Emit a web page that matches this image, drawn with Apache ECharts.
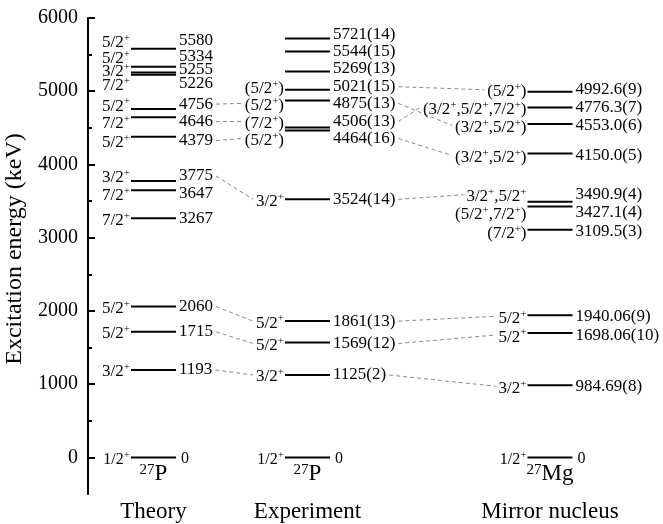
<!DOCTYPE html>
<html><head><meta charset="utf-8">
<script src="https://cdn.jsdelivr.net/npm/echarts@6/dist/echarts.min.js"></script>
<style>html,body{margin:0;padding:0;background:#fff}#c{width:663px;height:524px}</style>
</head><body><div id="c"></div>
<script>
// ---------------- data ----------------
const columnNames = ['Theory', 'Experiment', 'Mirror nucleus'];
const nucleusMass = ['27', '27', '27'];
const nucleusSymbol = ['P', 'P', 'Mg'];

const theoryEnergies = [0, 1193, 1715, 2060, 3267, 3647, 3775, 4379, 4646, 4756, 5226, 5255, 5334, 5580];
const theoryLabels = ['0', '1193', '1715', '2060', '3267', '3647', '3775', '4379', '4646', '4756', '5226', '5255', '5334', '5580'];
const theorySpins = ['1/2+', '3/2+', '5/2+', '5/2+', '7/2+', '7/2+', '3/2+', '5/2+', '7/2+', '5/2+', '7/2+', '3/2+', '5/2+', '5/2+'];

const expEnergies = [0, 1125, 1569, 1861, 3524, 4464, 4506, 4875, 5021, 5269, 5544, 5721];
const expLabels = ['0', '1125(2)', '1569(12)', '1861(13)', '3524(14)', '4464(16)', '4506(13)', '4875(13)', '5021(15)', '5269(13)', '5544(15)', '5721(14)'];
const expSpins = ['1/2+', '3/2+', '5/2+', '5/2+', '3/2+', '(5/2+)', '(7/2+)', '(5/2+)', '(5/2+)', '', '', ''];

const mirrorEnergies = [0, 984.69, 1698.06, 1940.06, 3109.5, 3427.1, 3490.9, 4150.0, 4553.0, 4776.3, 4992.6];
const mirrorLabels = ['0', '984.69(8)', '1698.06(10)', '1940.06(9)', '3109.5(3)', '3427.1(4)', '3490.9(4)', '4150.0(5)', '4553.0(6)', '4776.3(7)', '4992.6(9)'];
const mirrorSpins = ['1/2+', '3/2+', '5/2+', '5/2+', '(7/2+)', '(5/2+,7/2+)', '3/2+,5/2+', '(3/2+,5/2+)', '(3/2+,5/2+)', '(3/2+,5/2+,7/2+)', '(5/2+)'];

// correspondences (from energy -> to energy)
const theoryToExp = [[4756, 4875], [4646, 4506], [4379, 4464], [3775, 3524], [2060, 1861], [1715, 1569], [1193, 1125]];
const expToMirror = [[5021, 4992.6], [4875, 4553.0], [4506, 4776.3], [4464, 4150.0], [3524, 3490.9], [1861, 1940.06], [1569, 1698.06], [1125, 984.69]];

const yTickValues = [0, 1000, 2000, 3000, 4000, 5000, 6000];
const yTickLabels = ['0', '1000', '2000', '3000', '4000', '5000', '6000'];
const yMinorTickValues = [500, 1500, 2500, 3500, 4500, 5500];

// ---------------- layout / style ----------------
const FONT = "'Liberation Serif', 'Times New Roman', serif";
const colX = [65.5, 219.5, 462];   // column centres in x-axis units
const halfW = 22.5;
const LBL = 17, LBL0 = 16, SUP = 11;
const SPIN_DY = 2;                 // baseline correction of the rich spin labels
// vertical label shifts (px) to avoid overlaps
const labelShift = [
  {5580: -8, 5334: -10, 5255: -3, 5226: 9, 4756: -5, 4646: 4.5, 4379: 4, 3775: -5, 3647: 3},
  {5721: -4, 5269: -3, 5021: -3, 4875: 3, 4506: -6, 4464: 8, 1569: 1},
  {4992.6: -2, 4553: 1.5, 4150: 2, 3490.9: -7, 3427.1: 6, 3109.5: 2, 1940.06: 1, 1698.06: 2, 984.69: 1}
];

const columns = [
  {energies: theoryEnergies, labels: theoryLabels, spins: theorySpins},
  {energies: expEnergies, labels: expLabels, spins: expSpins},
  {energies: mirrorEnergies, labels: mirrorLabels, spins: mirrorSpins}
];

const ctx = document.createElement('canvas').getContext('2d');
function textW(str, size) { ctx.font = size + 'px ' + FONT; return ctx.measureText(str).width; }
function spinWidth(s, size) {
  let w = 0; const parts = s.split('+');
  parts.forEach((p, i) => { w += textW(p, size); if (i < parts.length - 1) w += textW('+', SUP); });
  return w;
}
function spinRich(s) {
  let out = ''; const parts = s.split('+');
  parts.forEach((p, i) => { if (p) out += '{n|' + p + '}'; if (i < parts.length - 1) out += '{s|+}'; });
  return out;
}
function richStyles(size) {
  return {
    n: {fontSize: size, fontFamily: FONT, lineHeight: 22, verticalAlign: 'middle', fill: '#000'},
    s: {fontSize: SUP, fontFamily: FONT, lineHeight: 11, verticalAlign: 'middle', padding: [0, 0, 9, 0], fill: '#000'}
  };
}
function shift(ci, e) { return labelShift[ci][e] || 0; }

const levelData = [];
columns.forEach((c, ci) => c.energies.forEach((e, i) => levelData.push([ci, e, i])));
const linkData = [];
theoryToExp.forEach(p => linkData.push([0, p[0], p[1]]));
expToMirror.forEach(p => linkData.push([1, p[0], p[1]]));

function renderLevel(params, api) {
  const ci = api.value(0), e = api.value(1), i = api.value(2);
  const col = columns[ci];
  const L = api.coord([colX[ci] - halfW, e]);
  const R = api.coord([colX[ci] + halfW, e]);
  const y = L[1];
  const ground = e === 0;
  const size = ground ? LBL0 : LBL;
  const dy = shift(ci, e);
  const children = [
    {type: 'line', shape: {x1: L[0], y1: y, x2: R[0], y2: y}, style: {stroke: '#000', lineWidth: 2}}
  ];
  if (col.spins[i]) {
    children.push({type: 'text', x: L[0] - 1, y: y + dy + SPIN_DY,
      style: {text: spinRich(col.spins[i]), rich: richStyles(size), align: 'right', verticalAlign: 'middle', fill: '#000'}});
  }
  children.push({type: 'text', x: R[0] + (ground ? 5 : 3), y: y + dy + (ground ? 1 : 0),
    style: {text: col.labels[i], fontSize: size, fontFamily: FONT, align: 'left', verticalAlign: 'middle', fill: '#000'}});
  if (ground) {
    const cx = (L[0] + R[0]) / 2;
    children.push({type: 'text', x: cx, y: y + 17,
      style: {text: '{m|' + nucleusMass[ci] + '}{b|' + nucleusSymbol[ci] + '}', align: 'center', verticalAlign: 'middle',
        rich: {m: {fontSize: 15, fontFamily: FONT, lineHeight: 15, verticalAlign: 'middle', padding: [0, 0, 8, 0], fill: '#000'},
               b: {fontSize: 23, fontFamily: FONT, lineHeight: 24, verticalAlign: 'middle', fill: '#000'}}}});
    children.push({type: 'text', x: cx, y: y + 55,
      style: {text: columnNames[ci], fontSize: 23, fontFamily: FONT, align: 'center', verticalAlign: 'middle', fill: '#000'}});
  }
  return {type: 'group', children: children};
}

function renderLink(params, api) {
  const ci = api.value(0), eFrom = api.value(1), eTo = api.value(2);
  const cFrom = columns[ci], cTo = columns[ci + 1];
  const iFrom = cFrom.energies.indexOf(eFrom), iTo = cTo.energies.indexOf(eTo);
  const R = api.coord([colX[ci] + halfW, eFrom]);
  const L = api.coord([colX[ci + 1] - halfW, eTo]);
  const x1 = R[0] + 3 + textW(cFrom.labels[iFrom], LBL) + 3;
  const y1 = R[1] + shift(ci, eFrom);
  const x2 = L[0] - 1 - spinWidth(cTo.spins[iTo], LBL) - 3;
  const y2 = L[1] + shift(ci + 1, eTo);
  return {type: 'line', shape: {x1: x1, y1: y1, x2: x2, y2: y2},
    style: {stroke: '#8a8a8a', lineWidth: 1, lineDash: [4, 3]}};
}

const chart = echarts.init(document.getElementById('c'), null, {renderer: 'canvas'});
chart.setOption({
  backgroundColor: '#fff',
  animation: false,
  grid: {left: 88, right: 0, top: 18, bottom: 30, containLabel: false, outerBoundsMode: 'none'},
  xAxis: {type: 'value', min: 0, max: 575, show: false},
  yAxis: [
    {type: 'value', min: -500, max: 6000, position: 'left', offset: 0,
      name: 'Excitation energy (keV)', nameLocation: 'middle', nameGap: 54, nameRotate: 90,
      nameTextStyle: {fontSize: 24, fontFamily: FONT, color: '#000', padding: [0, 0, 0, 14]},
      axisLine: {show: true, lineStyle: {color: '#000', width: 2}},
      axisTick: {show: true, inside: true, length: 7, customValues: yTickValues, lineStyle: {color: '#000', width: 2}},
      axisLabel: {show: true, customValues: yTickValues, fontSize: 20, fontFamily: FONT, color: '#000', margin: 10,
        formatter: v => yTickLabels[yTickValues.indexOf(v)] || String(v)},
      splitLine: {show: false}},
    {type: 'value', min: -500, max: 6000, position: 'left', offset: 0,
      axisLine: {show: false},
      axisTick: {show: true, inside: true, length: 4, customValues: yMinorTickValues, lineStyle: {color: '#000', width: 2}},
      axisLabel: {show: false}, splitLine: {show: false}}
  ],
  series: [
    {type: 'custom', name: 'links', coordinateSystem: 'cartesian2d', xAxisIndex: 0, yAxisIndex: 0,
      data: linkData, encode: {x: 0, y: 1}, renderItem: renderLink, silent: true, clip: false},
    {type: 'custom', name: 'levels', coordinateSystem: 'cartesian2d', xAxisIndex: 0, yAxisIndex: 0,
      data: levelData, encode: {x: 0, y: 1}, renderItem: renderLevel, silent: true, clip: false}
  ]
});
</script></body></html>
